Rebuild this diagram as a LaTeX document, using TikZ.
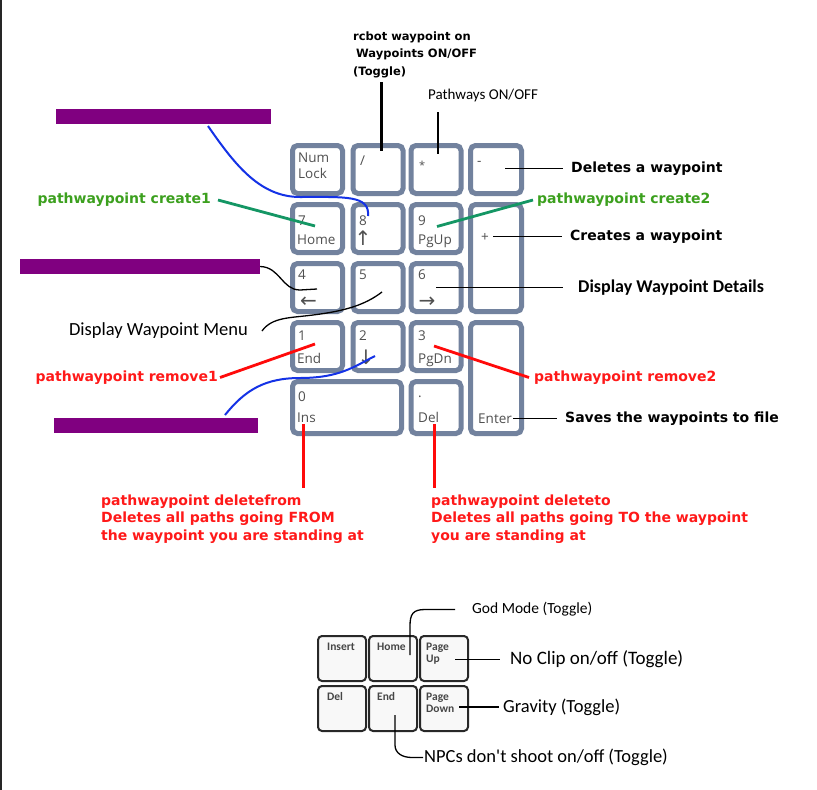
\documentclass[tikz,border=0pt]{standalone}
\usepackage{fontspec}
\setmainfont{DejaVu Sans}
\newfontfamily\fverd{DejaVu Sans}
\newfontfamily\fcal{Carlito}
\newfontfamily\fkey{Open Sans}
\newfontfamily\farr{DejaVu Sans}
\definecolor{keyblue}{RGB}{114,130,158}
\definecolor{keytext}{RGB}{80,80,80}
\definecolor{grtext}{RGB}{60,160,30}
\definecolor{grline}{RGB}{20,150,100}
\definecolor{rdtext}{RGB}{255,25,25}
\definecolor{rdline}{RGB}{255,10,10}
\definecolor{blline}{RGB}{20,50,230}
\definecolor{purp}{RGB}{128,0,128}
\definecolor{smallkey}{RGB}{40,40,40}
\definecolor{smallfill}{RGB}{248,248,248}
\definecolor{smalltext}{RGB}{70,70,70}
\begin{document}
\begin{tikzpicture}[x=1pt,y=-1pt,
  mkey/.style={draw=keyblue, line width=5pt, fill=white, rounded corners=5pt, inner sep=0pt},
  skey/.style={draw=smallkey, line width=2pt, fill=smallfill, rounded corners=4pt, inner sep=0pt, minimum width=48pt, minimum height=45pt},
  klab/.style={font=\fkey\fontsize{13.5}{13.5}\selectfont, text=keytext, inner sep=0pt, anchor=base west},
  karr/.style={font=\farr\fontsize{20}{20}\selectfont, text=keytext, inner sep=0pt},
  slab/.style={font=\fcal\bfseries\fontsize{11.5}{11.5}\selectfont, text=smalltext, inner sep=0pt, anchor=base west},
  vb/.style={font=\fverd\bfseries\fontsize{14}{17.5}\selectfont, inner ysep=0pt},
  cl/.style={font=\fcal\fontsize{18.5}{18.5}\selectfont, inner ysep=0pt},
  bar/.style={fill=purp, inner sep=0pt},
  thinline/.style={draw=black, line width=1.3pt},
  thickline/.style={draw=black, line width=2.2pt},
  grl/.style={draw=grline, line width=2.8pt},
  rdl/.style={draw=rdline, line width=2.8pt},
  bll/.style={draw=blline, line width=2pt},
]
\useasboundingbox (0,0) rectangle (817,790);
\fill[white] (0,0) rectangle (817,790);
\draw[line width=2pt, black!85] (1,0) -- (1,790);

% ---------- main keypad ----------
\node[mkey, minimum width=50pt, minimum height=48pt] (knum) at (317.5,169.5) {};
\node[mkey, minimum width=50pt, minimum height=48pt] (kslash) at (378,169.5) {};
\node[mkey, minimum width=50pt, minimum height=48pt] (kstar) at (436,169.5) {};
\node[mkey, minimum width=51pt, minimum height=48pt] (kminus) at (496,169.5) {};
\node[mkey, minimum width=50pt, minimum height=48pt] (k7) at (317.5,228.5) {};
\node[mkey, minimum width=50pt, minimum height=48pt] (k8) at (378,228.5) {};
\node[mkey, minimum width=50pt, minimum height=48pt] (k9) at (436,228.5) {};
\node[mkey, minimum width=51pt, minimum height=107pt] (kplus) at (496,258) {};
\node[mkey, minimum width=50pt, minimum height=48pt] (k4) at (317.5,287.5) {};
\node[mkey, minimum width=50pt, minimum height=48pt] (k5) at (378,287.5) {};
\node[mkey, minimum width=50pt, minimum height=48pt] (k6) at (436,287.5) {};
\node[mkey, minimum width=50pt, minimum height=48pt] (k1) at (317.5,346.5) {};
\node[mkey, minimum width=50pt, minimum height=48pt] (k2) at (378,346.5) {};
\node[mkey, minimum width=50pt, minimum height=48pt] (k3) at (436,346.5) {};
\node[mkey, minimum width=51pt, minimum height=111pt] (kenter) at (496,378) {};
\node[mkey, minimum width=109pt, minimum height=52pt] (k0) at (347,407.5) {};
\node[mkey, minimum width=50pt, minimum height=52pt] (kdel) at (436,407.5) {};

% key labels
\node[klab] (tnum) at (298,162) {Num};
\node[klab] (tlock) at (298,178) {Lock};
\node[klab] (tslash) at (360,165) {/};
\node[klab, font=\fkey\fontsize{11}{11}\selectfont] (tstar) at (419,169) {*};
\node[klab] (tminus) at (477,165) {-};
\node[klab] (t7) at (298,225) {7};
\node[klab] (thome) at (297,244) {Home};
\node[klab] (t8) at (359,225) {8};
\node[karr] (tup) at (363,238.5) {↑};
\node[klab] (t9) at (418,225) {9};
\node[klab] (tpgup) at (418,244) {PgUp};
\node[klab] (tplus) at (481,241) {+};
\node[klab] (t4) at (298,279) {4};
\node[karr] (tleft) at (308.5,302) {←};
\node[klab] (t5) at (359,279) {5};
\node[klab] (t6) at (418,279) {6};
\node[karr] (tright) at (427,302) {→};
\node[klab] (t1) at (298,340) {1};
\node[klab] (tend) at (297,363) {End};
\node[klab] (t2) at (359,340) {2};
\node[karr] (tdown) at (366,357) {↓};
\node[klab] (t3) at (418,340) {3};
\node[klab] (tpgdn) at (418,363) {PgDn};
\node[klab] (t0) at (298,401) {0};
\node[klab] (tins) at (297,422) {Ins};
\node[klab] (tdot) at (418,397) {.};
\node[klab] (tdel) at (418,422) {Del};
\node[klab] (tenter) at (478,423) {Enter};

% ---------- redaction bars ----------
\node[bar, minimum width=215pt, minimum height=15pt] (bar1) at (163.5,116.5) {};
\node[bar, minimum width=240pt, minimum height=15pt] (bar2) at (140,266.5) {};
\node[bar, minimum width=204pt, minimum height=15pt] (bar3) at (156,425.5) {};

% ---------- labels ----------
\node[vb, font=\fverd\bfseries\fontsize{11.5}{17.5}\selectfont, anchor=north west, align=left, inner sep=0pt] (rcbot) at (353,31.5)
  {rcbot waypoint on\\\hspace{3pt}Waypoints ON/OFF\\(Toggle)};
\node[cl, font=\fcal\fontsize{15}{15}\selectfont, anchor=west, inner xsep=0pt] (pathw) at (428,95) {Pathways ON/OFF};
\node[vb, anchor=west, inner xsep=8pt] (delwp) at (563,168.5) {Deletes a waypoint};
\node[vb, anchor=west, inner xsep=4pt, text=grtext] (create2) at (533,200) {pathwaypoint create2};
\node[vb, anchor=west, inner xsep=8pt] (creates) at (562,236.5) {Creates a waypoint};
\node[cl, font=\fcal\bfseries\fontsize{18}{18}\selectfont, anchor=west, inner xsep=15pt] (details) at (563,287.5) {Display Waypoint Details};
\node[vb, anchor=west, inner xsep=5pt, text=rdtext] (remove2) at (529,377.5) {pathwaypoint remove2};
\node[vb, anchor=west, inner xsep=8pt] (saves) at (557,418.5) {Saves the waypoints to file};
\node[vb, anchor=east, inner xsep=7pt, text=grtext] (create1) at (218,200) {pathwaypoint create1};
\node[cl, anchor=east, inner xsep=14pt] (menu) at (262,331) {Display Waypoint Menu};
\node[vb, anchor=east, inner xsep=2pt, text=rdtext] (remove1) at (220,377.5) {pathwaypoint remove1};
\node[vb, anchor=north west, align=left, inner sep=0pt, text=rdtext] (delfrom) at (101,494.5)
  {pathwaypoint deletefrom\\Deletes all paths going FROM\\the waypoint you are standing at};
\node[vb, anchor=north west, align=left, inner sep=0pt, text=rdtext] (delto) at (431,494.5)
  {pathwaypoint deleteto\\Deletes all paths going TO the waypoint\\you are standing at};

% ---------- connector points ----------
\coordinate (rtop) at (381.5,82);
\coordinate (pslash) at (381.5,151);
\coordinate (ptop) at (438,112);
\coordinate (pstar) at (438,154);
\coordinate (pminus) at (505,168.5);
\coordinate (p9) at (437,226.5);
\coordinate (pplus) at (493,236.5);
\coordinate (p6) at (436,287.5);
\coordinate (p3) at (434,346);
\coordinate (penter) at (513,418.5);
\coordinate (p7) at (315,226);
\coordinate (p8) at (368,216);
\coordinate (b1s) at (208,126);
\coordinate (p4) at (317,289);
\coordinate (p5) at (382,292);
\coordinate (p1) at (315,344);
\coordinate (p2) at (375,356);
\coordinate (b3s) at (225,415);
\coordinate (p0) at (303.5,424);
\coordinate (p0b) at (303.5,488);
\coordinate (pdel) at (434.5,424);
\coordinate (pdelb) at (434.5,488);

% ---------- connectors ----------
\draw[thickline] (rtop) -- (pslash);
\draw[thickline] (ptop) -- (pstar);
\draw[thinline] (pminus) -- (delwp.west);
\draw[grl] (p9) -- (create2.west);
\draw[thinline] (pplus) -- (creates.west);
\draw[thinline] (p6) -- (details.west);
\draw[rdl] (p3) -- (remove2.west);
\draw[thinline] (penter) -- (saves.west);
\draw[grl] (create1.east) -- (p7);
\draw[rdl] (remove1.east) -- (p1);
\draw[bll] (b1s) .. controls (235,165) and (260,197) .. (300,197) .. controls (345,197) and (370,195) .. (p8);
\draw[thinline] (bar2.east) .. controls (280,267) and (282,290) .. (300,290) -- (p4);
\draw[thinline] (menu.east) .. controls (272,317) and (290,318) .. (313,315) .. controls (345,311) and (365,305) .. (p5);
\draw[bll] (b3s) .. controls (245,390) and (265,378) .. (300,378) .. controls (340,378) and (355,366) .. (p2);
\draw[rdl] (p0) -- (p0b);
\draw[rdl] (pdel) -- (pdelb);

% ---------- small keypad ----------
\node[skey] (sins) at (342,658.5) {};
\node[skey] (shome) at (393,658.5) {};
\node[skey] (spgup) at (444,658.5) {};
\node[skey] (sdel) at (342,708.5) {};
\node[skey] (send) at (393,708.5) {};
\node[skey] (spgdn) at (444,708.5) {};
\node[slab] (lins) at (327,650) {Insert};
\node[slab] (lhome) at (377,650) {Home};
\node[slab] (lpage1) at (426,650) {Page};
\node[slab] (lup) at (426,662) {Up};
\node[slab] (ldel) at (327,700) {Del};
\node[slab] (lend) at (377,700) {End};
\node[slab] (lpage2) at (426,700) {Page};
\node[slab] (ldown) at (426,712) {Down};

\node[cl, font=\fcal\fontsize{15.5}{15.5}\selectfont, anchor=west, inner xsep=17pt] (god) at (455,609.5) {God Mode (Toggle)};
\node[cl, font=\fcal\fontsize{19}{19}\selectfont, anchor=west, inner xsep=10pt] (noclip) at (500,659.5) {No Clip on/off (Toggle)};
\node[cl, font=\fcal\fontsize{18.5}{18.5}\selectfont, anchor=west, inner xsep=4pt] (gravity) at (499,707) {Gravity (Toggle)};
\node[cl, font=\fcal\fontsize{18.5}{18.5}\selectfont, anchor=west, inner xsep=1pt] (npcs) at (423,757.5) {NPCs don't shoot on/off (Toggle)};

\coordinate (shp) at (410,655);
\coordinate (sup) at (455,659.5);
\coordinate (sdn) at (459,707);
\coordinate (sen) at (395,715);
\draw[thinline] (god.west) -- (425,609.5) .. controls (413,609.5) and (410,614) .. (410,626) -- (shp);
\draw[thinline] (sup) -- (noclip.west);
\draw[thinline] (sdn) -- (gravity.west);
\draw[thinline] (sen) -- (395,745) .. controls (395,753) and (402,757.5) .. (412,757.5) -- (npcs.west);
\end{tikzpicture}
\end{document}
